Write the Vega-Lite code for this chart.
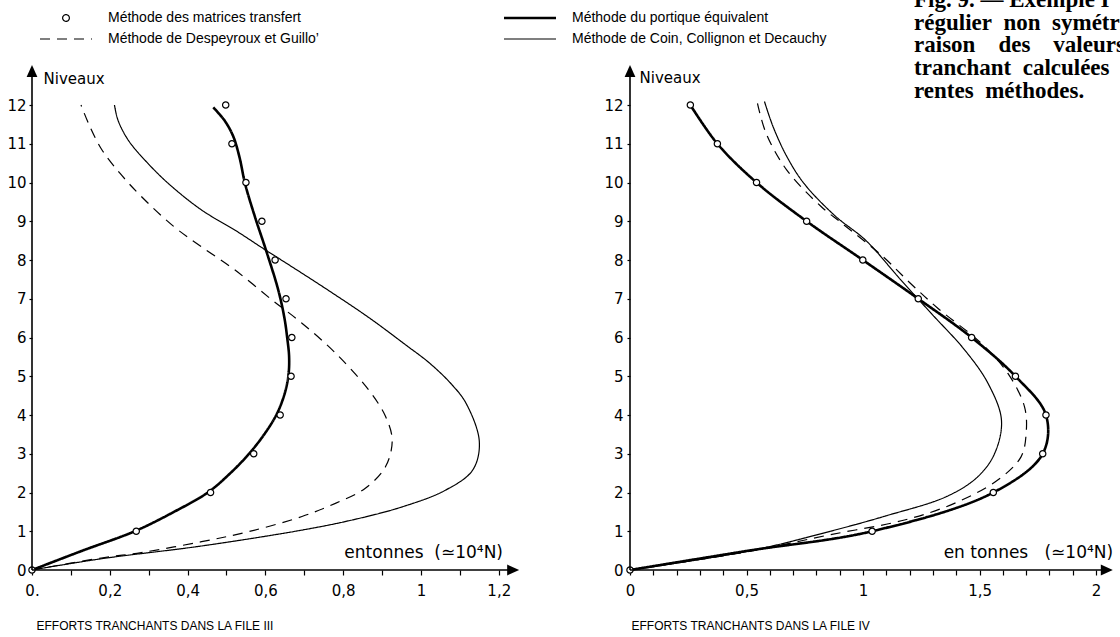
{
  "$schema": "https://vega.github.io/schema/vega-lite/v6.json",
  "background": "white",
  "padding": {"left": 6, "top": 0, "right": 0, "bottom": 0},
  "bounds": "flush",
  "spacing": 104,
  "datasets": {
    "curves": [
      {"file": "III", "method": "portique", "niveau": 11.94, "effort": 0.466},
      {"file": "III", "method": "portique", "niveau": 11.6, "effort": 0.495},
      {"file": "III", "method": "portique", "niveau": 11.2, "effort": 0.517},
      {"file": "III", "method": "portique", "niveau": 10.67, "effort": 0.533},
      {"file": "III", "method": "portique", "niveau": 9.96, "effort": 0.548},
      {"file": "III", "method": "portique", "niveau": 9.12, "effort": 0.573},
      {"file": "III", "method": "portique", "niveau": 8.21, "effort": 0.603},
      {"file": "III", "method": "portique", "niveau": 7.23, "effort": 0.633},
      {"file": "III", "method": "portique", "niveau": 6.5, "effort": 0.649},
      {"file": "III", "method": "portique", "niveau": 6, "effort": 0.656},
      {"file": "III", "method": "portique", "niveau": 5.5, "effort": 0.661},
      {"file": "III", "method": "portique", "niveau": 5, "effort": 0.659},
      {"file": "III", "method": "portique", "niveau": 4.5, "effort": 0.648},
      {"file": "III", "method": "portique", "niveau": 4, "effort": 0.628},
      {"file": "III", "method": "portique", "niveau": 3.5, "effort": 0.597},
      {"file": "III", "method": "portique", "niveau": 3, "effort": 0.558},
      {"file": "III", "method": "portique", "niveau": 2.5, "effort": 0.51},
      {"file": "III", "method": "portique", "niveau": 2, "effort": 0.452},
      {"file": "III", "method": "portique", "niveau": 1.5, "effort": 0.365},
      {"file": "III", "method": "portique", "niveau": 1, "effort": 0.264},
      {"file": "III", "method": "portique", "niveau": 0.5, "effort": 0.13},
      {"file": "III", "method": "portique", "niveau": 0, "effort": 0},
      {"file": "III", "method": "despeyroux", "niveau": 12, "effort": 0.126},
      {"file": "III", "method": "despeyroux", "niveau": 11.44, "effort": 0.149},
      {"file": "III", "method": "despeyroux", "niveau": 10.84, "effort": 0.18},
      {"file": "III", "method": "despeyroux", "niveau": 10.24, "effort": 0.226},
      {"file": "III", "method": "despeyroux", "niveau": 9.64, "effort": 0.281},
      {"file": "III", "method": "despeyroux", "niveau": 8.86, "effort": 0.365},
      {"file": "III", "method": "despeyroux", "niveau": 8.34, "effort": 0.436},
      {"file": "III", "method": "despeyroux", "niveau": 7.74, "effort": 0.522},
      {"file": "III", "method": "despeyroux", "niveau": 6.97, "effort": 0.617},
      {"file": "III", "method": "despeyroux", "niveau": 6.37, "effort": 0.694},
      {"file": "III", "method": "despeyroux", "niveau": 5.6, "effort": 0.78},
      {"file": "III", "method": "despeyroux", "niveau": 4.64, "effort": 0.866},
      {"file": "III", "method": "despeyroux", "niveau": 3.96, "effort": 0.909},
      {"file": "III", "method": "despeyroux", "niveau": 3.35, "effort": 0.926},
      {"file": "III", "method": "despeyroux", "niveau": 2.67, "effort": 0.909},
      {"file": "III", "method": "despeyroux", "niveau": 2.11, "effort": 0.857},
      {"file": "III", "method": "despeyroux", "niveau": 1.72, "effort": 0.78},
      {"file": "III", "method": "despeyroux", "niveau": 1.38, "effort": 0.694},
      {"file": "III", "method": "despeyroux", "niveau": 0.99, "effort": 0.557},
      {"file": "III", "method": "despeyroux", "niveau": 0.73, "effort": 0.436},
      {"file": "III", "method": "despeyroux", "niveau": 0.45, "effort": 0.281},
      {"file": "III", "method": "despeyroux", "niveau": 0.31, "effort": 0.178},
      {"file": "III", "method": "despeyroux", "niveau": 0, "effort": 0},
      {"file": "III", "method": "coin", "niveau": 12, "effort": 0.212},
      {"file": "III", "method": "coin", "niveau": 11.61, "effort": 0.221},
      {"file": "III", "method": "coin", "niveau": 11.1, "effort": 0.247},
      {"file": "III", "method": "coin", "niveau": 10.58, "effort": 0.29},
      {"file": "III", "method": "coin", "niveau": 9.98, "effort": 0.35},
      {"file": "III", "method": "coin", "niveau": 9.29, "effort": 0.436},
      {"file": "III", "method": "coin", "niveau": 8.77, "effort": 0.522},
      {"file": "III", "method": "coin", "niveau": 8.26, "effort": 0.6},
      {"file": "III", "method": "coin", "niveau": 7.91, "effort": 0.655},
      {"file": "III", "method": "coin", "niveau": 7.23, "effort": 0.76},
      {"file": "III", "method": "coin", "niveau": 6.5, "effort": 0.868},
      {"file": "III", "method": "coin", "niveau": 5.8, "effort": 0.962},
      {"file": "III", "method": "coin", "niveau": 5.34, "effort": 1.022},
      {"file": "III", "method": "coin", "niveau": 4.8, "effort": 1.078},
      {"file": "III", "method": "coin", "niveau": 4.3, "effort": 1.116},
      {"file": "III", "method": "coin", "niveau": 3.31, "effort": 1.15},
      {"file": "III", "method": "coin", "niveau": 2.58, "effort": 1.133},
      {"file": "III", "method": "coin", "niveau": 2.06, "effort": 1.063},
      {"file": "III", "method": "coin", "niveau": 1.63, "effort": 0.952},
      {"file": "III", "method": "coin", "niveau": 1.29, "effort": 0.823},
      {"file": "III", "method": "coin", "niveau": 1.03, "effort": 0.694},
      {"file": "III", "method": "coin", "niveau": 0.62, "effort": 0.436},
      {"file": "III", "method": "coin", "niveau": 0.29, "effort": 0.178},
      {"file": "III", "method": "coin", "niveau": 0, "effort": 0},
      {"file": "IV", "method": "portique", "niveau": 12, "effort": 0.259},
      {"file": "IV", "method": "portique", "niveau": 11, "effort": 0.375},
      {"file": "IV", "method": "portique", "niveau": 10, "effort": 0.543},
      {"file": "IV", "method": "portique", "niveau": 9, "effort": 0.758},
      {"file": "IV", "method": "portique", "niveau": 8, "effort": 0.999},
      {"file": "IV", "method": "portique", "niveau": 7, "effort": 1.237},
      {"file": "IV", "method": "portique", "niveau": 6, "effort": 1.466},
      {"file": "IV", "method": "portique", "niveau": 5, "effort": 1.654},
      {"file": "IV", "method": "portique", "niveau": 4, "effort": 1.785},
      {"file": "IV", "method": "portique", "niveau": 3, "effort": 1.771},
      {"file": "IV", "method": "portique", "niveau": 2, "effort": 1.559},
      {"file": "IV", "method": "portique", "niveau": 1, "effort": 1.039},
      {"file": "IV", "method": "portique", "niveau": 0.5, "effort": 0.51},
      {"file": "IV", "method": "portique", "niveau": 0, "effort": 0},
      {"file": "IV", "method": "despeyroux", "niveau": 12.04, "effort": 0.547},
      {"file": "IV", "method": "despeyroux", "niveau": 11.27, "effort": 0.584},
      {"file": "IV", "method": "despeyroux", "niveau": 10.32, "effort": 0.673},
      {"file": "IV", "method": "despeyroux", "niveau": 9.38, "effort": 0.82},
      {"file": "IV", "method": "despeyroux", "niveau": 8.95, "effort": 0.909},
      {"file": "IV", "method": "despeyroux", "niveau": 8.09, "effort": 1.085},
      {"file": "IV", "method": "despeyroux", "niveau": 7.4, "effort": 1.203},
      {"file": "IV", "method": "despeyroux", "niveau": 6.75, "effort": 1.322},
      {"file": "IV", "method": "despeyroux", "niveau": 5.85, "effort": 1.507},
      {"file": "IV", "method": "despeyroux", "niveau": 5.08, "effort": 1.621},
      {"file": "IV", "method": "despeyroux", "niveau": 4.21, "effort": 1.693},
      {"file": "IV", "method": "despeyroux", "niveau": 3.53, "effort": 1.7},
      {"file": "IV", "method": "despeyroux", "niveau": 2.92, "effort": 1.678},
      {"file": "IV", "method": "despeyroux", "niveau": 2.32, "effort": 1.578},
      {"file": "IV", "method": "despeyroux", "niveau": 1.72, "effort": 1.392},
      {"file": "IV", "method": "despeyroux", "niveau": 1.29, "effort": 1.178},
      {"file": "IV", "method": "despeyroux", "niveau": 0.9, "effort": 0.85},
      {"file": "IV", "method": "despeyroux", "niveau": 0.5, "effort": 0.53},
      {"file": "IV", "method": "despeyroux", "niveau": 0, "effort": 0},
      {"file": "IV", "method": "coin", "niveau": 12.09, "effort": 0.577},
      {"file": "IV", "method": "coin", "niveau": 11.44, "effort": 0.614},
      {"file": "IV", "method": "coin", "niveau": 10.67, "effort": 0.673},
      {"file": "IV", "method": "coin", "niveau": 9.98, "effort": 0.746},
      {"file": "IV", "method": "coin", "niveau": 9.14, "effort": 0.88},
      {"file": "IV", "method": "coin", "niveau": 8.5, "effort": 1.013},
      {"file": "IV", "method": "coin", "niveau": 7.5, "effort": 1.16},
      {"file": "IV", "method": "coin", "niveau": 6.62, "effort": 1.293},
      {"file": "IV", "method": "coin", "niveau": 5.68, "effort": 1.436},
      {"file": "IV", "method": "coin", "niveau": 4.82, "effort": 1.536},
      {"file": "IV", "method": "coin", "niveau": 3.87, "effort": 1.594},
      {"file": "IV", "method": "coin", "niveau": 3.01, "effort": 1.565},
      {"file": "IV", "method": "coin", "niveau": 2.41, "effort": 1.493},
      {"file": "IV", "method": "coin", "niveau": 1.9, "effort": 1.36},
      {"file": "IV", "method": "coin", "niveau": 1.4, "effort": 1.1},
      {"file": "IV", "method": "coin", "niveau": 1.0, "effort": 0.86},
      {"file": "IV", "method": "coin", "niveau": 0.5, "effort": 0.52},
      {"file": "IV", "method": "coin", "niveau": 0, "effort": 0}
    ],
    "matrices": [
      {"file": "III", "niveau": 12, "effort": 0.498},
      {"file": "III", "niveau": 11, "effort": 0.514},
      {"file": "III", "niveau": 10, "effort": 0.55},
      {"file": "III", "niveau": 9, "effort": 0.591},
      {"file": "III", "niveau": 8, "effort": 0.625},
      {"file": "III", "niveau": 7, "effort": 0.653},
      {"file": "III", "niveau": 6, "effort": 0.668},
      {"file": "III", "niveau": 5, "effort": 0.666},
      {"file": "III", "niveau": 4, "effort": 0.638},
      {"file": "III", "niveau": 3, "effort": 0.57},
      {"file": "III", "niveau": 2, "effort": 0.459},
      {"file": "III", "niveau": 1, "effort": 0.268},
      {"file": "III", "niveau": 0, "effort": 0},
      {"file": "IV", "niveau": 12, "effort": 0.259},
      {"file": "IV", "niveau": 11, "effort": 0.375},
      {"file": "IV", "niveau": 10, "effort": 0.543},
      {"file": "IV", "niveau": 9, "effort": 0.758},
      {"file": "IV", "niveau": 8, "effort": 0.999},
      {"file": "IV", "niveau": 7, "effort": 1.237},
      {"file": "IV", "niveau": 6, "effort": 1.466},
      {"file": "IV", "niveau": 5, "effort": 1.654},
      {"file": "IV", "niveau": 4, "effort": 1.785},
      {"file": "IV", "niveau": 3, "effort": 1.771},
      {"file": "IV", "niveau": 2, "effort": 1.559},
      {"file": "IV", "niveau": 1, "effort": 1.039},
      {"file": "IV", "niveau": 0, "effort": 0}
    ]
  },
  "config": {
    "view": {"stroke": null},
    "axis": {
      "grid": false,
      "domain": false,
      "labelFont": "DejaVu Sans",
      "labelFontSize": 15,
      "labelColor": "black",
      "tickColor": "black",
      "tickWidth": 1.2,
      "titleColor": "black",
      "titleFontWeight": "normal",
      "labelOverlap": false,
      "labelFlush": false
    },
    "legend": {
      "orient": "none",
      "legendX": 27,
      "legendY": 11,
      "columns": 2,
      "padding": 0,
      "rowPadding": 7,
      "columnPadding": 179,
      "labelOffset": 35,
      "labelFont": "Liberation Sans",
      "labelFontSize": 14,
      "labelColor": "black",
      "labelLimit": 400,
      "symbolType": "stroke",
      "symbolSize": 2704,
      "symbolStrokeWidth": 1.2,
      "symbolStrokeColor": "black"
    }
  },
  "hconcat": [
    {
      "width": 494,
      "height": 570,
      "layer": [
        {
          "data": {"name": "curves"},
          "transform": [{"filter": "datum.file === 'III'"}],
          "mark": {"type": "line", "interpolate": "catmull-rom", "stroke": "black"},
          "encoding": {
            "x": {
              "field": "effort", "type": "quantitative",
              "scale": {"domain": [0, 1.27], "nice": false, "zero": false},
              "axis": {
                "values": [0, 0.1, 0.2, 0.3, 0.4, 0.5, 0.6, 0.7, 0.8, 0.9, 1, 1.1, 1.2],
                "labelExpr": "datum.value == 0 ? '0.' : (abs(datum.value * 5 - round(datum.value * 5)) < 0.001 ? replace(format(datum.value, '.1~f'), '.', ',') : '')",
                "labelOverlap": false,
                "tickSize": 5,
                "labelPadding": 8,
                "title": "EFFORTS TRANCHANTS DANS LA FILE III",
                "titleFont": "Liberation Sans",
                "titleFontSize": 12,
                "titleAnchor": "start",
                "titleAlign": "left",
                "titleBaseline": "middle",
                "titleX": 4,
                "titleY": 55
              }
            },
            "y": {
              "field": "niveau", "type": "quantitative",
              "scale": {"domain": [0, 14.71], "nice": false, "zero": false},
              "axis": {
                "values": [0, 1, 2, 3, 4, 5, 6, 7, 8, 9, 10, 11, 12],
                "tickSize": 3,
                "labelPadding": 3,
                "title": "Niveaux",
                "titleFont": "DejaVu Sans",
                "titleFontSize": 15,
                "titleAngle": 0,
                "titleAlign": "left",
                "titleBaseline": "middle",
                "titleX": 11,
                "titleY": 78
              }
            },
            "order": {"field": "niveau", "type": "quantitative"},
            "detail": {"field": "method"},
            "strokeDash": {
              "field": "method", "type": "nominal",
              "scale": {
                "domain": ["matrices", "despeyroux", "portique", "coin"],
                "range": [[1, 0], [10, 7], [1, 0], [1, 0]]
              },
              "legend": {
                "title": null,
                "labelExpr": "{'matrices': 'Méthode des matrices transfert', 'portique': 'Méthode du portique équivalent', 'despeyroux': 'Méthode de Despeyroux et Guillo’', 'coin': 'Méthode de Coin, Collignon et Decauchy'}[datum.value]",
                "encode": {
                  "symbols": {
                    "update": {
                      "shape": {"signal": "datum.value === 'matrices' ? 'M-1,0M0.13,0A0.13,0.13,0,1,1,-0.13,0A0.13,0.13,0,1,1,0.13,0Z' : 'stroke'"},
                      "strokeWidth": {"signal": "datum.value === 'portique' ? 2.6 : 1.2"},
                      "fill": {"value": "white"},
                      "stroke": {"value": "black"},
                      "opacity": {"value": 1}
                    }
                  }
                }
              }
            },
            "strokeWidth": {"condition": {"test": "datum.method === 'portique'", "value": 2.6}, "value": 1.2}
          }
        },
        {
          "data": {"name": "matrices"},
          "transform": [{"filter": "datum.file === 'III'"}],
          "mark": {"type": "point", "shape": "circle", "filled": true, "fill": "white", "stroke": "black", "strokeWidth": 1.2, "size": 40, "opacity": 1},
          "encoding": {
            "x": {"field": "effort", "type": "quantitative"},
            "y": {"field": "niveau", "type": "quantitative"}
          }
        },
        {
          "data": {"values": [{}]},
          "mark": {"type": "rule", "stroke": "black", "strokeWidth": 1.6},
          "encoding": {
            "x": {"datum": 0, "type": "quantitative"},
            "x2": {"datum": 1.237},
            "y": {"datum": 0, "type": "quantitative"}
          }
        },
        {
          "data": {"values": [{}]},
          "mark": {"type": "rule", "stroke": "black", "strokeWidth": 1.6},
          "encoding": {
            "x": {"datum": 0, "type": "quantitative"},
            "y": {"datum": 0, "type": "quantitative"},
            "y2": {"datum": 12.88}
          }
        },
        {
          "data": {"values": [{}]},
          "mark": {"type": "point", "shape": "M1,0L-1,0.9L-1,-0.9Z", "filled": true, "fill": "black", "size": 144, "opacity": 1},
          "encoding": {
            "x": {"datum": 1.237, "type": "quantitative"},
            "y": {"datum": 0, "type": "quantitative"}
          }
        },
        {
          "data": {"values": [{}]},
          "mark": {"type": "point", "shape": "M0,-1L0.9,1L-0.9,1Z", "filled": true, "fill": "black", "size": 144, "opacity": 1},
          "encoding": {
            "x": {"datum": 0, "type": "quantitative"},
            "y": {"datum": 12.88, "type": "quantitative"}
          }
        },
        {
          "data": {"values": [{}]},
          "mark": {"type": "text", "text": "entonnes\u00a0\u00a0(≃10⁴N)", "font": "DejaVu Sans", "fontSize": 17, "align": "left", "baseline": "middle", "color": "black"},
          "encoding": {
            "x": {"datum": 0.803, "type": "quantitative"},
            "y": {"datum": 0.44, "type": "quantitative"}
          }
        }
      ]
    },
    {
      "width": 491,
      "height": 570,
      "resolve": {"axis": {"x": "independent"}},
      "layer": [
        {
          "data": {"name": "curves"},
          "transform": [{"filter": "datum.file === 'IV'"}],
          "mark": {"type": "line", "interpolate": "catmull-rom", "stroke": "black"},
          "encoding": {
            "x": {
              "field": "effort", "type": "quantitative",
              "scale": {"domain": [0, 2.107], "nice": false, "zero": false},
              "axis": {
                "orient": "bottom",
                "values": [0, 0.5, 1, 1.5, 2],
                "labelExpr": "abs(datum.value - round(datum.value)) < 0.001 ? format(round(datum.value), 'd') : format(floor(datum.value), 'd') + ',5'",
                "labelOverlap": false,
                "tickSize": 5,
                "labelPadding": 8,
                "title": "EFFORTS TRANCHANTS DANS LA FILE IV",
                "titleFont": "Liberation Sans",
                "titleFontSize": 12,
                "titleAnchor": "start",
                "titleAlign": "left",
                "titleBaseline": "middle",
                "titleX": 1,
                "titleY": 55
              }
            },
            "y": {
              "field": "niveau", "type": "quantitative",
              "scale": {"domain": [0, 14.71], "nice": false, "zero": false},
              "axis": {
                "values": [0, 1, 2, 3, 4, 5, 6, 7, 8, 9, 10, 11, 12],
                "tickSize": 3,
                "labelPadding": 4,
                "title": "Niveaux",
                "titleFont": "DejaVu Sans",
                "titleFontSize": 15,
                "titleAngle": 0,
                "titleAlign": "left",
                "titleBaseline": "middle",
                "titleX": 9,
                "titleY": 77
              }
            },
            "order": {"field": "niveau", "type": "quantitative"},
            "detail": {"field": "method"},
            "strokeDash": {
              "field": "method", "type": "nominal",
              "scale": {
                "domain": ["matrices", "despeyroux", "portique", "coin"],
                "range": [[1, 0], [10, 7], [1, 0], [1, 0]]
              },
              "legend": {
                "title": null,
                "labelExpr": "{'matrices': 'Méthode des matrices transfert', 'portique': 'Méthode du portique équivalent', 'despeyroux': 'Méthode de Despeyroux et Guillo’', 'coin': 'Méthode de Coin, Collignon et Decauchy'}[datum.value]",
                "encode": {
                  "symbols": {
                    "update": {
                      "shape": {"signal": "datum.value === 'matrices' ? 'M-1,0M0.13,0A0.13,0.13,0,1,1,-0.13,0A0.13,0.13,0,1,1,0.13,0Z' : 'stroke'"},
                      "strokeWidth": {"signal": "datum.value === 'portique' ? 2.6 : 1.2"},
                      "fill": {"value": "white"},
                      "stroke": {"value": "black"},
                      "opacity": {"value": 1}
                    }
                  }
                }
              }
            },
            "strokeWidth": {"condition": {"test": "datum.method === 'portique'", "value": 2.6}, "value": 1.2}
          }
        },
        {
          "data": {"name": "matrices"},
          "transform": [{"filter": "datum.file === 'IV'"}],
          "mark": {"type": "point", "shape": "circle", "filled": true, "fill": "white", "stroke": "black", "strokeWidth": 1.2, "size": 40, "opacity": 1},
          "encoding": {
            "x": {"field": "effort", "type": "quantitative", "axis": null},
            "y": {"field": "niveau", "type": "quantitative"}
          }
        },
        {
          "data": {"values": [{}]},
          "mark": {"type": "rule", "stroke": "black", "strokeWidth": 1.6},
          "encoding": {
            "x": {
              "datum": 0, "type": "quantitative",
              "axis": {
                "orient": "bottom",
                "values": [0.1, 0.2, 0.3, 0.4, 0.6, 0.7, 0.8, 0.9, 1.1, 1.2, 1.3, 1.4, 1.6, 1.7, 1.8, 1.9],
                "labels": false,
                "title": null,
                "tickSize": 5
              }
            },
            "x2": {"datum": 2.046},
            "y": {"datum": 0, "type": "quantitative"}
          }
        },
        {
          "data": {"values": [{}]},
          "mark": {"type": "rule", "stroke": "black", "strokeWidth": 1.6},
          "encoding": {
            "x": {"datum": 0, "type": "quantitative", "axis": null},
            "y": {"datum": 0, "type": "quantitative"},
            "y2": {"datum": 12.88}
          }
        },
        {
          "data": {"values": [{}]},
          "mark": {"type": "point", "shape": "M1,0L-1,0.9L-1,-0.9Z", "filled": true, "fill": "black", "size": 144, "opacity": 1},
          "encoding": {
            "x": {"datum": 2.046, "type": "quantitative", "axis": null},
            "y": {"datum": 0, "type": "quantitative"}
          }
        },
        {
          "data": {"values": [{}]},
          "mark": {"type": "point", "shape": "M0,-1L0.9,1L-0.9,1Z", "filled": true, "fill": "black", "size": 144, "opacity": 1},
          "encoding": {
            "x": {"datum": 0, "type": "quantitative", "axis": null},
            "y": {"datum": 12.88, "type": "quantitative"}
          }
        },
        {
          "data": {"values": [{}]},
          "mark": {"type": "text", "text": "en tonnes\u00a0\u00a0\u00a0(≃10⁴N)", "font": "DejaVu Sans", "fontSize": 17, "align": "left", "baseline": "middle", "color": "black"},
          "encoding": {
            "x": {"datum": 1.346, "type": "quantitative", "axis": null},
            "y": {"datum": 0.44, "type": "quantitative"}
          }
        },
        {
          "data": {"values": [{}]},
          "mark": {
            "type": "text",
            "text": ["Fig. 9. — Exemple I", "régulier\u00a0\u00a0non\u00a0\u00a0symétri", "raison\u00a0\u00a0\u00a0\u00a0des\u00a0\u00a0\u00a0\u00a0valeurs", "tranchant\u00a0\u00a0calculées", "rentes\u00a0\u00a0méthodes."],
            "lineHeight": 22.7,
            "font": "Liberation Serif",
            "fontWeight": "bold",
            "fontSize": 23,
            "align": "left",
            "baseline": "alphabetic",
            "color": "black",
            "clip": true
          },
          "encoding": {
            "x": {"datum": 1.219, "type": "quantitative", "axis": null},
            "y": {"datum": 14.53, "type": "quantitative"}
          }
        }
      ]
    }
  ]
}
